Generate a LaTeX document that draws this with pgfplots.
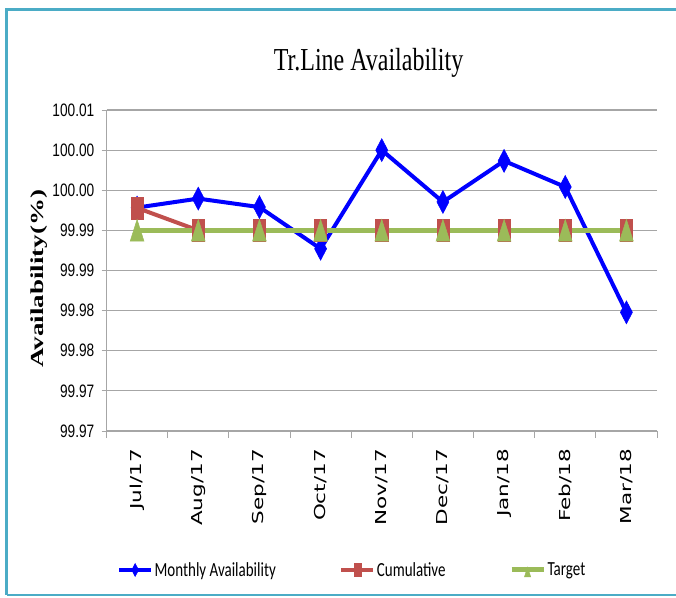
\documentclass[border=0pt]{standalone}
\usepackage{pgfplots}
\pgfplotsset{compat=1.18}
\usepackage{fontspec}
\setmainfont{Liberation Serif}
\newfontfamily\arialf{Liberation Sans}
\newfontfamily\dejaf{DejaVu Sans}
\newfontfamily\carlf{Carlito}
\definecolor{mblue}{HTML}{0000FF}
\definecolor{cred}{HTML}{C0504D}
\definecolor{tgreen}{HTML}{9BBB59}
\definecolor{framec}{HTML}{4BACC6}
\definecolor{gridc}{HTML}{A6A6A6}
\newcommand{\yl}[1]{\scalebox{0.76}[1]{#1}}
\newcommand{\xl}[1]{\scalebox{1}[0.7]{#1}}
\begin{document}
\begin{tikzpicture}
\useasboundingbox (0,0) rectangle (676pt,597pt);
\draw[framec, line width=3pt] (6.5pt,2.5pt) -- (6.5pt,587pt) -- (690pt,587pt);
\draw[framec, line width=2pt] (6.5pt,2.5pt) -- (690pt,2.5pt);
% y values are given as (availability - 99.97) x 1000, i.e. in thousandths of a percent above 99.97
\begin{axis}[
  scale only axis, width=550.5pt, height=321pt, at={(106.5pt,166pt)}, anchor=south west,
  xmin=-0.5, xmax=8.5, ymin=0, ymax=40,
  axis x line*=bottom, axis y line*=left,
  axis line style={gridc, line width=1pt},
  ymajorgrids, grid style={gridc, line width=1.2pt},
  tick align=outside, major tick length=5pt, minor tick length=7pt,
  tick style={gridc, line width=1pt},
  major x tick style={draw=none},
  xtick={0,...,8},
  minor xtick={-0.5,0.5,...,8.5},
  xticklabels={\xl{Jul/17},\xl{Aug/17},\xl{Sep/17},\xl{Oct/17},\xl{Nov/17},\xl{Dec/17},\xl{Jan/18},\xl{Feb/18},\xl{Mar/18}},
  xticklabel style={font=\dejaf\fontsize{21.5pt}{22pt}\selectfont, rotate=90, anchor=east, inner sep=0pt, xshift=-13pt},
  ytick={0,5,...,40},
  yticklabels={\yl{99.97},\yl{99.97},\yl{99.98},\yl{99.98},\yl{99.99},\yl{99.99},\yl{100.00},\yl{100.00},\yl{100.01}},
  yticklabel style={font=\arialf\fontsize{18pt}{20pt}\selectfont, inner sep=0pt, xshift=-7pt},
  title={\scalebox{0.75}[1]{Tr.Line Availability}},
  title style={font=\fontsize{32pt}{34pt}\selectfont, at={(axis description cs:0.476,1.128)}, anchor=center},
  ylabel={\scalebox{1}[0.68]{Availability(\%)}},
  ylabel style={font=\bfseries\fontsize{27pt}{29pt}\selectfont, at={(axis description cs:-0.1226,0.474)}, anchor=center},
  legend columns=3,
  legend style={at={(axis description cs:0.019,-0.433)}, anchor=west, draw=none, fill=none,
    font=\carlf\fontsize{20pt}{22pt}\selectfont, inner sep=0pt,
    nodes={inner sep=1.5pt},
    /tikz/every even column/.append style={column sep=62pt}},
  legend image code/.code={\draw[#1, mark repeat=2, mark phase=2] plot coordinates {(0pt,0pt) (16pt,0pt) (32pt,0pt)};},
  legend image post style={mark size=6.5pt},
]
\addplot[mblue, line width=4pt, mark=diamond*, mark size=11.5pt, mark options={solid, xscale=0.7, line width=0.5pt}]
  coordinates {(0,27.84) (1,28.96) (2,27.9) (3,22.71) (4,35.0) (5,28.54) (6,33.66) (7,30.41) (8,14.79)};
\addlegendentry{\scalebox{0.75}[1]{Monthly Availability}}
\addplot[cred, line width=4pt, mark=square*, mark size=11pt, mark options={solid, xscale=0.55, line width=0.5pt}]
  coordinates {(0,27.8) (1,25) (2,25) (3,25) (4,25) (5,25) (6,25) (7,25) (8,25)};
\addlegendentry{\scalebox{0.75}[1]{Cumulative}}
\addplot[tgreen, line width=5pt, mark=triangle*, mark size=14.5pt, mark options={solid, yshift=-3.6pt, xscale=0.55, line width=0.5pt}]
  coordinates {(0,25) (1,25) (2,25) (3,25) (4,25) (5,25) (6,25) (7,25) (8,25)};
\addlegendentry{\scalebox{0.75}[1]{Target}}
\end{axis}
\end{tikzpicture}
\end{document}
